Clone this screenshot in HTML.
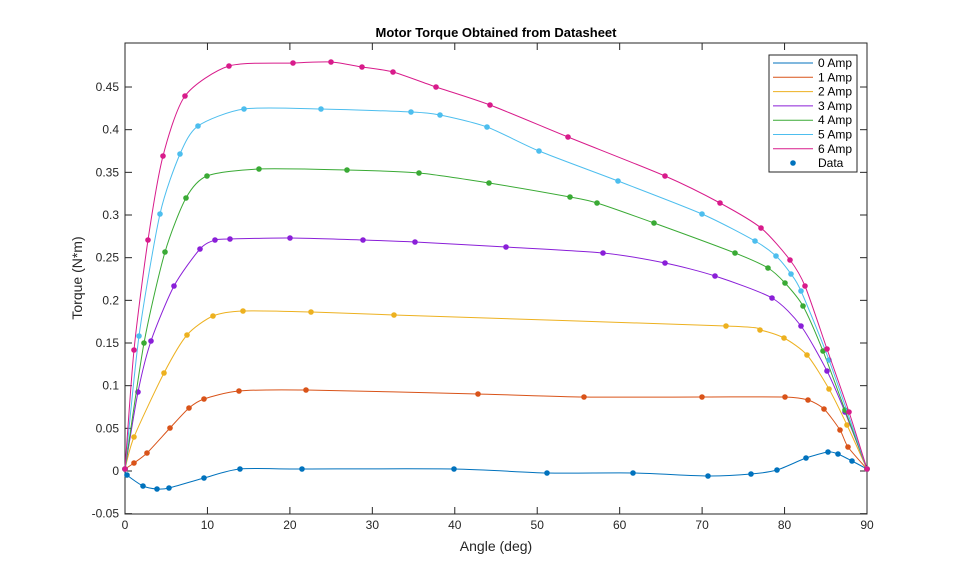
<!DOCTYPE html>
<html><head><meta charset="utf-8"><style>
body{margin:0;background:#fff;}
svg{display:block;font-family:"Liberation Sans",Arial,sans-serif;}
</style></head><body>
<svg id="s" width="959" height="577" xmlns="http://www.w3.org/2000/svg">
<rect width="959" height="577" fill="#fff"/>
<rect x="125" y="43" width="742" height="471" fill="#fff" stroke="#262626" stroke-width="1"/>
<g id="ticks" stroke="#262626" stroke-width="1"></g>
<g id="tl" font-size="12" fill="#262626"></g>
<g id="series"></g>
<text x="496" y="37" font-size="13" font-weight="bold" text-anchor="middle" fill="#000">Motor Torque Obtained from Datasheet</text>
<text x="496" y="551" font-size="14" text-anchor="middle" fill="#262626">Angle (deg)</text>
<text transform="translate(82,278) rotate(-90)" font-size="14" text-anchor="middle" fill="#262626">Torque (N*m)</text>
<g id="leg"></g>
</svg>
<script>
const NS="http://www.w3.org/2000/svg";
function el(t,a,p,txt){const e=document.createElementNS(NS,t);for(const k in a)e.setAttribute(k,a[k]);if(txt!==undefined)e.textContent=txt;document.getElementById(p).appendChild(e);return e;}
const X=v=>125+v*742/90, Y=v=>471-v*853.3;
for(let i=0;i<=9;i++){const x=X(i*10);el('line',{x1:x,y1:514,x2:x,y2:507},'ticks');el('line',{x1:x,y1:43,x2:x,y2:50},'ticks');el('text',{x:x,y:529,'text-anchor':'middle'},'tl',String(i*10));}
for(let i=-1;i<=9;i++){const v=i*0.05,y=Y(v);el('line',{x1:125,y1:y,x2:132,y2:y},'ticks');el('line',{x1:867,y1:y,x2:860,y2:y},'ticks');
let s=(Math.round(v*100)/100).toString();el('text',{x:119,y:y+4,'text-anchor':'end'},'tl',s);}
const S=[
["#0072BD",[[125,469],[127,475],[143,486],[157,489],[169,488],[204,478],[240,469],[302,469],[454,469],[547,473],[633,473],[708,476],[751,474],[777,470],[806,458],[828,452],[838,454],[852,461],[867,469]]],
["#D95319",[[125,469],[134,463],[147,453],[170,428],[189,408],[204,399],[239,391],[306,390],[478,394],[584,397],[702,397],[785,397],[808,400],[824,409],[840,430],[848,447],[867,469]]],
["#EDB120",[[125,469],[134,437],[164,373],[187,335],[213,316],[243,311],[311,312],[394,315],[726,326],[760,330],[784,338],[807,355],[829,389],[847,425],[867,469]]],
["#8A1FD8",[[125,469],[138,392],[151,341],[174,286],[200,249],[215,240],[230,239],[290,238],[363,240],[415,242],[506,247],[603,253],[665,263],[715,276],[772,298],[801,326],[827,371],[845,412],[867,469]]],
["#3AAA35",[[125,469],[144,343],[165,252],[186,198],[207,176],[259,169],[347,170],[419,173],[489,183],[570,197],[597,203],[654,223],[735,253],[768,268],[785,283],[803,306],[823,351],[845,410],[867,469]]],
["#4DBEEE",[[125,469],[139,336],[160,214],[180,154],[198,126],[244,109],[321,109],[411,112],[440,115],[487,127],[539,151],[618,181],[702,214],[755,241],[776,256],[791,274],[801,291],[829,360],[867,469]]],
["#D81B8B",[[125,469],[134,350],[148,240],[163,156],[185,96],[229,66],[293,63],[331,62],[362,67],[393,72],[436,87],[490,105],[568,137],[665,176],[720,203],[761,228],[790,260],[805,286],[827,349],[849,412],[867,469]]]];
S.forEach(([c,p])=>{let d="M"+p[0];const k=8;for(let i=0;i<p.length-1;i++){const p0=p[Math.max(0,i-1)],p1=p[i],p2=p[i+1],p3=p[Math.min(p.length-1,i+2)];
const c1=[p1[0]+(p2[0]-p0[0])/k,p1[1]+(p2[1]-p0[1])/k],c2=[p2[0]-(p3[0]-p1[0])/k,p2[1]-(p3[1]-p1[1])/k];d+=" C"+c1+" "+c2+" "+p2;}
el('path',{d:d,fill:'none',stroke:c,'stroke-width':1},'series');
p.forEach(q=>el('circle',{cx:q[0],cy:q[1],r:2.8,fill:c},'series'));});
el('rect',{x:769,y:55,width:88,height:117,fill:'#fff',stroke:'#262626','stroke-width':1},'leg');
const names=["0 Amp","1 Amp","2 Amp","3 Amp","4 Amp","5 Amp","6 Amp"];
names.forEach((n,i)=>{const y=63+i*14.3;el('line',{x1:773,y1:y,x2:813,y2:y,stroke:S[i][0],'stroke-width':1},'leg');el('text',{x:818,y:y+4,'font-size':12,fill:'#000'},'leg',n);});
el('circle',{cx:793,cy:163,r:2.8,fill:'#0072BD'},'leg');el('text',{x:818,y:167,'font-size':12,fill:'#000'},'leg',"Data");
</script>
</body></html>
